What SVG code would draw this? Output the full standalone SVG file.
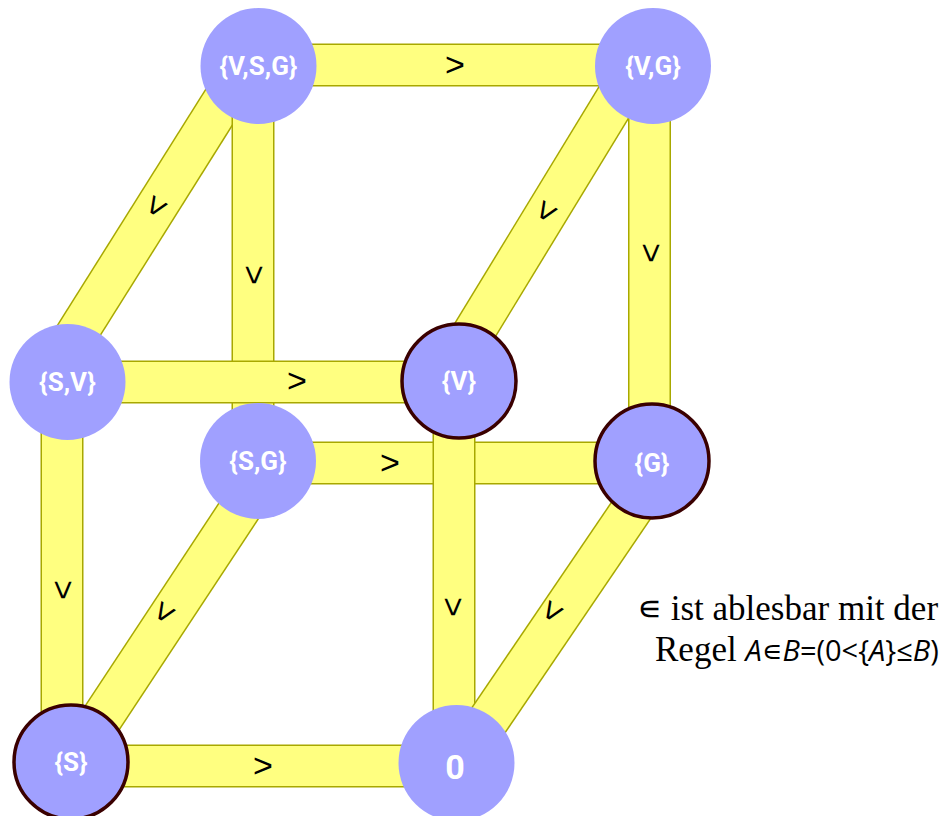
<svg xmlns="http://www.w3.org/2000/svg" width="948" height="816" viewBox="0 0 948 816">
<style>
.eo{stroke:#a8a800;stroke-width:43;fill:none}
.ei{stroke:#ffff80;stroke-width:40;fill:none}
.lbl{font-family:"Liberation Sans",sans-serif;font-size:34px;fill:#000;text-anchor:middle;dominant-baseline:central}
.node{fill:#a0a0ff}
.sel{fill:#a0a0ff;stroke:#3a0000;stroke-width:3.5}
.nt{font-family:Roboto,"Liberation Sans",sans-serif;font-size:26px;font-weight:bold;fill:#fff;text-anchor:middle;dominant-baseline:central}
.note{font-family:"Liberation Serif",serif;font-size:35px;fill:#000}
.m{font-family:"Open Sans","DejaVu Sans",sans-serif;font-size:29px}
</style>
<rect width="948" height="816" fill="#fff"/>
<g id="connectors">
  <g id="e1"><line class="eo" x1="258" y1="65" x2="653" y2="65"/><line class="ei" x1="258" y1="65" x2="653" y2="65"/><text class="lbl" transform="translate(455,64)">&gt;</text></g>
  <g id="e2"><line class="eo" x1="245" y1="66" x2="47" y2="381"/><line class="ei" x1="245" y1="66" x2="47" y2="381"/><text class="lbl" transform="translate(157,207) rotate(122)">&gt;</text></g>
  <g id="e3"><line class="eo" x1="253" y1="66" x2="253" y2="462"/><line class="ei" x1="253" y1="66" x2="253" y2="462"/><text class="lbl" transform="translate(255,275) rotate(90)">&gt;</text></g>
  <g id="e4"><line class="eo" x1="636" y1="66" x2="444" y2="381"/><line class="ei" x1="636" y1="66" x2="444" y2="381"/><text class="lbl" transform="translate(547,212) rotate(122)">&gt;</text></g>
  <g id="e5"><line class="eo" x1="649.5" y1="66" x2="649.5" y2="462"/><line class="ei" x1="649.5" y1="66" x2="649.5" y2="462"/><text class="lbl" transform="translate(652,253) rotate(90)">&gt;</text></g>
  <g id="e6"><line class="eo" x1="67" y1="382" x2="459" y2="382"/><line class="ei" x1="67" y1="382" x2="459" y2="382"/><text class="lbl" transform="translate(297,380)">&gt;</text></g>
  <g id="e7"><line class="eo" x1="62" y1="381" x2="62" y2="762"/><line class="ei" x1="62" y1="381" x2="62" y2="762"/><text class="lbl" transform="translate(64,590) rotate(90)">&gt;</text></g>
  <g id="e8"><line class="eo" x1="258" y1="463" x2="652" y2="463"/><line class="ei" x1="258" y1="463" x2="652" y2="463"/><text class="lbl" transform="translate(390,462)">&gt;</text></g>
  <g id="e9"><line class="eo" x1="271" y1="462" x2="73" y2="762"/><line class="ei" x1="271" y1="462" x2="73" y2="762"/><text class="lbl" transform="translate(165,613) rotate(122)">&gt;</text></g>
  <g id="e10"><line class="eo" x1="454" y1="381" x2="454" y2="765"/><line class="ei" x1="454" y1="381" x2="454" y2="765"/><text class="lbl" transform="translate(454,607) rotate(90)">&gt;</text></g>
  <g id="e11"><line class="eo" x1="664" y1="462" x2="458" y2="765"/><line class="ei" x1="664" y1="462" x2="458" y2="765"/><text class="lbl" transform="translate(553,612) rotate(122)">&gt;</text></g>
  <g id="e12"><line class="eo" x1="71" y1="766" x2="457" y2="766"/><line class="ei" x1="71" y1="766" x2="457" y2="766"/><text class="lbl" transform="translate(263,765)">&gt;</text></g>
</g>
<g id="n-VSG"><circle class="node" cx="258.5" cy="66" r="58"/><text class="nt" x="258.5" y="66">{V,S,G}</text></g>
<g id="n-VG"><circle class="node" cx="653" cy="66" r="58"/><text class="nt" x="653" y="66">{V,G}</text></g>
<g id="n-SV"><circle class="node" cx="67.5" cy="382" r="58"/><text class="nt" x="67.5" y="382">{S,V}</text></g>
<g id="n-V"><circle class="sel" cx="459" cy="381" r="57"/><text class="nt" x="459" y="381">{V}</text></g>
<g id="n-SG"><circle class="node" cx="258" cy="461" r="58"/><text class="nt" x="258" y="461">{S,G}</text></g>
<g id="n-G"><circle class="sel" cx="652" cy="461" r="57"/><text class="nt" x="652" y="463">{G}</text></g>
<g id="n-S"><circle class="sel" cx="71" cy="762" r="57"/><text class="nt" x="71" y="762">{S}</text></g>
<g id="n-0"><circle class="node" cx="456.5" cy="763" r="58"/><text class="nt" x="455" y="767" style="font-size:34px">0</text></g>
<g id="note">
  <text class="note" x="637" y="620">∊ ist ablesbar mit der</text>
  <text class="note" x="655" y="661">Regel <tspan class="m" font-style="italic">A∊B</tspan><tspan class="m">=(0&lt;{</tspan><tspan class="m" font-style="italic">A</tspan><tspan class="m">}≤</tspan><tspan class="m" font-style="italic">B</tspan><tspan class="m">)</tspan></text>
</g>
</svg>
